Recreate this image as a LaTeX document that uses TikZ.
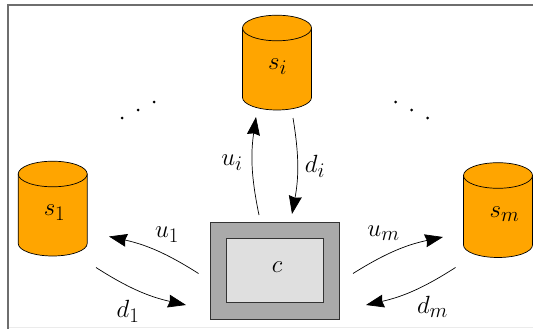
\documentclass[tikz,border=0pt]{standalone}
\usepackage{amsmath}
\usetikzlibrary{arrows.meta}
\definecolor{cylfill}{RGB}{255,165,0}
\definecolor{outerbox}{RGB}{170,170,170}
\definecolor{innerbox}{RGB}{223,223,223}
\definecolor{framegray}{RGB}{110,110,110}
\tikzset{
  storepic/.pic={
    \path[draw=black,fill=cylfill,line width=0.7pt] (-34.5,0) -- (-34.5,69.5)
      arc[start angle=180,end angle=0,x radius=34.5,y radius=12.5] -- (34.5,0) -- cycle;
    \path[draw=black,fill=cylfill,line width=0.7pt] (0,0) ellipse[x radius=34.5,y radius=12.8];
  },
  lbl/.style={inner sep=0pt,font=\Huge},
  flow/.style={line width=0.7pt,-{Stealth[length=18pt,width=13pt,inset=1.5pt]}},
  dotmark/.style={circle,fill=black,inner sep=0pt,minimum size=3pt},
  boxouter/.style={draw=black!80,fill=outerbox,line width=0.7pt,inner sep=0pt,minimum width=129pt,minimum height=97pt},
  boxinner/.style={draw=black!80,fill=innerbox,line width=0.7pt,inner sep=0pt,minimum width=97pt,minimum height=64pt},
}
\begin{document}
\begin{tikzpicture}[x=1pt,y=-1pt]
\useasboundingbox (0,0) rectangle (533,329);
\draw[black!8,line width=0.8pt] (8,327.5) -- (533,327.5);
\draw[framegray,line width=1.2pt] (8,329) -- (8,5) -- (533,5);
\pic at (277,28) {storepic};
\pic at (52.7,174) {storepic};
\pic at (498,175.5) {storepic};
\node[boxouter] (co) at (275,270.7) {};
\node[boxinner] (ci) at (275,270.5) {};
\node[lbl] (tsi) at (277.5,67) {$s_i$};
\node[lbl] (ts1) at (54.5,213) {$s_1$};
\node[lbl] (tsm) at (504.5,214) {$s_m$};
\node[lbl] (tc) at (277,267) {$c$};
\foreach \n/\x/\y in {a/122/118,b/138/110,c/154/102,d/395.5/102,e/411.5/110,f/427.7/118}
  \node[dotmark] (dot\n) at (\x,\y) {};
\coordinate (u1a) at (198.5,273.5); \coordinate (u1b) at (109,236.5);
\coordinate (d1a) at (96,267.5);    \coordinate (d1b) at (186,305);
\coordinate (uma) at (353,273.5);   \coordinate (umb) at (443,237);
\coordinate (dma) at (455.5,267.5); \coordinate (dmb) at (366,305);
\coordinate (uia) at (259,215);     \coordinate (uib) at (256,117);
\coordinate (dia) at (293,118);     \coordinate (dib) at (292,214);
\draw[flow] (u1a) to[bend right=10] (u1b);
\draw[flow] (d1a) to[bend right=10] (d1b);
\draw[flow] (uma) to[bend left=10] (umb);
\draw[flow] (dma) to[bend left=10] (dmb);
\draw[flow] (uia) to[bend left=10] (uib);
\draw[flow] (dia) to[bend left=10] (dib);
\node[lbl] (lu1) at (167,235) {$u_1$};
\node[lbl] (ld1) at (128,311) {$d_1$};
\node[lbl] (lum) at (383.5,233) {$u_m$};
\node[lbl] (ldm) at (432.5,307) {$d_m$};
\node[lbl] (lui) at (232,163) {$u_i$};
\node[lbl] (ldi) at (315,166) {$d_i$};
\end{tikzpicture}
\end{document}
